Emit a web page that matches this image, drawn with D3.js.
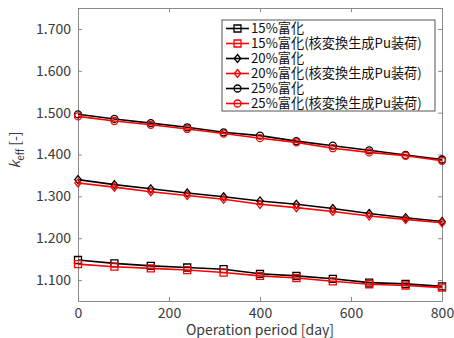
<!DOCTYPE html>
<html>
<head>
<meta charset="utf-8">
<script src="https://cdn.jsdelivr.net/npm/d3@7/dist/d3.min.js"></script>
<style>
  body { margin: 0; background: #fff; }
  text { font-family: "Noto Sans CJK JP", "Noto Sans", sans-serif; }
</style>
</head>
<body>
<div id="chart"></div>
<script>
    // operation period [day]
    var days = [0, 80, 160, 240, 320, 400, 480, 560, 640, 720, 800];

    var k15 = [1.148, 1.140, 1.134, 1.130, 1.126, 1.115, 1.110, 1.103, 1.094, 1.091, 1.085];
    var k15pu = [1.138, 1.132, 1.128, 1.124, 1.118, 1.110, 1.105, 1.097, 1.090, 1.087, 1.082];
    var k20 = [1.340, 1.328, 1.318, 1.308, 1.299, 1.289, 1.281, 1.271, 1.259, 1.249, 1.240];
    var k20pu = [1.332, 1.322, 1.311, 1.302, 1.293, 1.281, 1.273, 1.264, 1.253, 1.245, 1.237];
    var k25 = [1.496, 1.485, 1.475, 1.465, 1.453, 1.445, 1.432, 1.421, 1.410, 1.399, 1.388];
    var k25pu = [1.491, 1.480, 1.471, 1.461, 1.450, 1.439, 1.429, 1.415, 1.405, 1.397, 1.385];

    var labels = ['15%富化', '15%富化(核変換生成Pu装荷)', '20%富化', '20%富化(核変換生成Pu装荷)', '25%富化', '25%富化(核変換生成Pu装荷)'];
    var xTicks = [0, 200, 400, 600, 800];
    var yTicks = [1.1, 1.2, 1.3, 1.4, 1.5, 1.6, 1.7];

    var series = [
        {name: labels[0], values: k15, color: '#000', marker: 'square'},
        {name: labels[1], values: k15pu, color: '#f00', marker: 'square'},
        {name: labels[2], values: k20, color: '#000', marker: 'diamond'},
        {name: labels[3], values: k20pu, color: '#f00', marker: 'diamond'},
        {name: labels[4], values: k25, color: '#000', marker: 'circle'},
        {name: labels[5], values: k25pu, color: '#f00', marker: 'circle'}
    ];

    var width = 454, height = 338;
    var margin = {top: 8, right: 12, bottom: 37, left: 78};
    var axisColor = '#8a8a8a', textColor = '#3a3a3a';

    var svg = d3.select('#chart').append('svg').attr('width', width).attr('height', height);

    var x = d3.scaleLinear().domain([0, 800]).range([margin.left, width - margin.right]);
    var y = d3.scaleLinear().domain([1.05, 1.75]).range([height - margin.bottom, margin.top]);

    var tickLen = 4;

    // axes (ticks inward, box on all sides)
    var gx = svg.append('g').attr('transform', 'translate(0,' + y.range()[0] + ')')
        .call(d3.axisBottom(x).tickValues(xTicks).tickSizeInner(-tickLen).tickSizeOuter(0).tickPadding(7));
    var gy = svg.append('g').attr('transform', 'translate(' + x.range()[0] + ',0)')
        .call(d3.axisLeft(y).tickValues(yTicks).tickFormat(d3.format('.3f')).tickSizeInner(-tickLen).tickSizeOuter(0).tickPadding(7));
    var gt = svg.append('g').attr('transform', 'translate(0,' + y.range()[1] + ')')
        .call(d3.axisTop(x).tickValues(xTicks).tickSizeInner(-tickLen).tickSizeOuter(0).tickFormat(''));
    var gr = svg.append('g').attr('transform', 'translate(' + x.range()[1] + ',0)')
        .call(d3.axisRight(y).tickValues(yTicks).tickSizeInner(-tickLen).tickSizeOuter(0).tickFormat(''));

    [gx, gy, gt, gr].forEach(function(g) {
        g.selectAll('path, line').attr('stroke', axisColor);
        g.selectAll('text').attr('fill', textColor).style('font-size', '14px')
            .style('font-family', '"Noto Sans CJK JP", sans-serif');
    });

    function markerPath(type, size) {
        var h = size / 2;
        if (type === 'square') return 'M' + (-h) + ',' + (-h) + 'H' + h + 'V' + h + 'H' + (-h) + 'Z';
        if (type === 'diamond') { h = h * 1.15; return 'M0,' + (-h) + 'L' + (h * 0.8) + ',0L0,' + h + 'L' + (-h * 0.8) + ',0Z'; }
        return d3.arc()({innerRadius: 0, outerRadius: h, startAngle: 0, endAngle: 2 * Math.PI});
    }

    var line = d3.line().x(function(d) { return x(d.day); }).y(function(d) { return y(d.k); });

    series.forEach(function(s) {
        var pts = days.map(function(d, i) { return {day: d, k: s.values[i]}; });
        var g = svg.append('g');
        g.append('path').datum(pts).attr('d', line)
            .attr('fill', 'none').attr('stroke', s.color).attr('stroke-width', 1.6);
        g.selectAll('path.m').data(pts).enter().append('path').attr('class', 'm')
            .attr('transform', function(d) { return 'translate(' + x(d.day) + ',' + y(d.k) + ')'; })
            .attr('d', markerPath(s.marker, 7))
            .attr('fill', 'none').attr('stroke', s.color).attr('stroke-width', 1.3);
    });

    // legend
    var lg = svg.append('g').attr('transform', 'translate(222,20)');
    lg.append('rect').attr('x', 0).attr('y', 0).attr('width', 213).attr('height', 91)
        .attr('fill', '#fff').attr('stroke', '#555').attr('stroke-width', 1);
    series.forEach(function(s, i) {
        var cy = 8.5 + i * 15;
        lg.append('line').attr('x1', 4).attr('x2', 27).attr('y1', cy).attr('y2', cy)
            .attr('stroke', s.color).attr('stroke-width', 1.6);
        lg.append('path').attr('transform', 'translate(15.5,' + cy + ')')
            .attr('d', markerPath(s.marker, 7))
            .attr('fill', 'none').attr('stroke', s.color).attr('stroke-width', 1.3);
        lg.append('text').attr('x', 29).attr('y', cy).attr('dy', '0.36em')
            .attr('fill', '#111').style('font-size', '13.2px').text(s.name);
    });

    // axis labels
    svg.append('text').attr('x', (x.range()[0] + x.range()[1]) / 2).attr('y', 335)
        .attr('text-anchor', 'middle').attr('fill', textColor).style('font-size', '14px')
        .text('Operation period [day]');

    var yl = svg.append('text').attr('transform', 'translate(20,150) rotate(-90)')
        .attr('text-anchor', 'middle').attr('fill', textColor).style('font-size', '14px');
    yl.append('tspan').style('font-style', 'italic').text('k');
    yl.append('tspan').attr('dy', 4).style('font-size', '10px').text('eff');
    yl.append('tspan').attr('dy', -4).text(' [-]');
</script>
</body>
</html>
